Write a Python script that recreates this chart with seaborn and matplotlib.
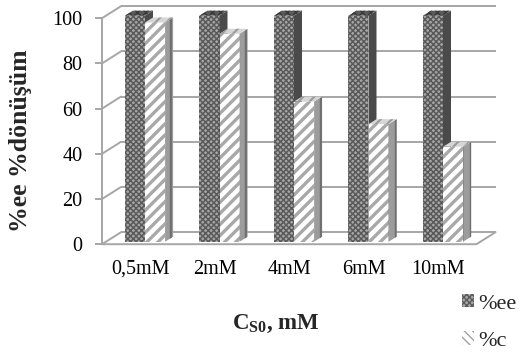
import matplotlib
matplotlib.use("Agg")
import matplotlib.pyplot as plt
from matplotlib.patches import Polygon, Patch
import numpy as np
import pandas as pd
import seaborn as sns

# ---- data ----
categories = ["0,5mM", "2mM", "4mM", "6mM", "10mM"]
ee_values = [100, 100, 100, 100, 100]
c_values = [97, 92, 62, 52, 42]
series = ["%ee", "%c"]
y_ticks = [0, 20, 40, 60, 80, 100]

df = pd.DataFrame({
    "cat": categories * 2,
    "series": [series[0]] * len(categories) + [series[1]] * len(categories),
    "value": ee_values + c_values,
})

sns.set_theme(style="white")
plt.rcParams["font.family"] = ["Liberation Serif", "DejaVu Serif"]
plt.rcParams["mathtext.fontset"] = "custom"
plt.rcParams["mathtext.bf"] = "Liberation Serif:bold"
plt.rcParams["mathtext.rm"] = "Liberation Serif"
plt.rcParams["hatch.linewidth"] = 1.0

W, H = 525, 358
fig = plt.figure(figsize=(W / 100, H / 100), dpi=100)
ax = fig.add_axes([102 / W, (H - 250) / H, 398 / W, 250 / H])

PX_X = 74.5   # px per category unit
PX_Y = 2.26   # px per value unit

sns.barplot(data=df, x="cat", y="value", hue="series", hue_order=series,
            order=categories, width=0.54, dodge=True, ax=ax, legend=False,
            palette=["#999999", "#ffffff"], zorder=2)

ax.set_xlim((102 - 145) / PX_X, (500 - 145) / PX_X)
ax.set_ylim((241.7 - 250) / PX_Y, 241.7 / PX_Y)

# plane offsets (data units)
fdx, fdy = -4.5 / PX_X, -2.5 / PX_Y    # front plane
bdx, bdy = 14.5 / PX_X, 9.5 / PX_Y     # back wall
ddx, ddy = 8 / PX_X, 5 / PX_Y          # bar depth
x_lo, x_hi = (106.5 - 145) / PX_X, (481 - 145) / PX_X

grid_c = "#a6a6a6"
glw = 1.4
for v in y_ticks:
    ax.plot([x_lo + bdx, x_hi + bdx], [v + bdy, v + bdy], color=grid_c, lw=glw, zorder=0.5,
            solid_capstyle="butt")
    ax.plot([x_lo + fdx, x_lo + bdx], [v + fdy, v + bdy], color=grid_c, lw=glw, zorder=0.5)
ax.plot([x_lo + fdx, x_hi + fdx, x_hi + bdx], [fdy, fdy, bdy], color=grid_c, lw=glw, zorder=0.6)


def hlw(p, w):
    if hasattr(p, "set_hatch_linewidth"):
        p.set_hatch_linewidth(w)


styles = [
    dict(front=("#a8a8a8", "#5a5a5a", "xxxxxx", 1.1), side=("#4a4a4a", "#333333", "", 1.0),
         top=("#5a5a5a", "#3a3a3a", "xxxx", 1.0), z=2),
    dict(front=("#ffffff", "#a8a8a8", "///", 2.4), side=("#9c9c9c", "#6e6e6e", "||", 1.5),
         top=("#d6d6d6", "#9a9a9a", "///", 1.5), z=3),
]
for k, cont in enumerate(ax.containers):
    st = styles[k]
    for bar in cont:
        fc, ec, hatch, lw = st["front"]
        bar.set_facecolor(fc)
        bar.set_edgecolor(ec)
        bar.set_hatch(hatch)
        hlw(bar, lw)
        bar.set_linewidth(0)
        bar.set_zorder(st["z"])
        x0 = bar.get_x()
        w = bar.get_width()
        h = bar.get_height()
        side = Polygon([(x0 + w, 0), (x0 + w + ddx, ddy), (x0 + w + ddx, h + ddy), (x0 + w, h)],
                       closed=True, facecolor=st["side"][0], edgecolor=st["side"][1],
                       hatch=st["side"][2], lw=0, zorder=st["z"] + 0.1)
        hlw(side, st["side"][3])
        top = Polygon([(x0, h), (x0 + w, h), (x0 + w + ddx, h + ddy), (x0 + ddx, h + ddy)],
                      closed=True, facecolor=st["top"][0], edgecolor=st["top"][1],
                      hatch=st["top"][2], lw=0, zorder=st["z"] + 0.1)
        hlw(top, st["top"][3])
        ax.add_patch(side)
        ax.add_patch(top)

for s in ["top", "right", "bottom"]:
    ax.spines[s].set_visible(False)
ax.spines["left"].set_color(grid_c)
ax.spines["left"].set_linewidth(glw)
ax.spines["left"].set_bounds(fdy, 100 + fdy)
ax.set_yticks([v + fdy for v in y_ticks], labels=[str(v) for v in y_ticks])
ax.tick_params(axis="y", length=5, width=glw, color=grid_c, pad=9, labelsize=14.5,
               labelcolor="black", left=True)
ax.set_xticks([i + fdx for i in range(len(categories))], labels=categories)
ax.tick_params(axis="x", length=0, pad=7, labelsize=14.5, labelcolor="black")
ax.set_xlabel("")
ax.set_ylabel("")
ax.patch.set_alpha(0)

fig.text(21 / W, 1 - 141 / H, "%ee %dönüşüm", rotation=90, ha="center", va="center",
         fontsize=18.5, fontweight="bold")
fig.text(276 / W, 1 - 324 / H, r"$\mathbf{C_{S0}}$, mM", ha="center", va="center",
         fontsize=16.5, fontweight="bold")

ee_h = Patch(facecolor="#a8a8a8", edgecolor="#5a5a5a", hatch="xxxxxx", lw=0)
c_h = Patch(facecolor="#ffffff", edgecolor="#a0a0a0", hatch="\\\\\\\\", lw=0)
hlw(c_h, 1.8)
fig.legend([ee_h, c_h], series, loc="center left", bbox_to_anchor=(462 / W, 1 - 322.5 / H),
           frameon=False, fontsize=16, handlelength=0.55, handleheight=0.55,
           labelspacing=0.8, handletextpad=0.2, borderpad=0, borderaxespad=0)

fig.savefig("out.png", dpi=100)
